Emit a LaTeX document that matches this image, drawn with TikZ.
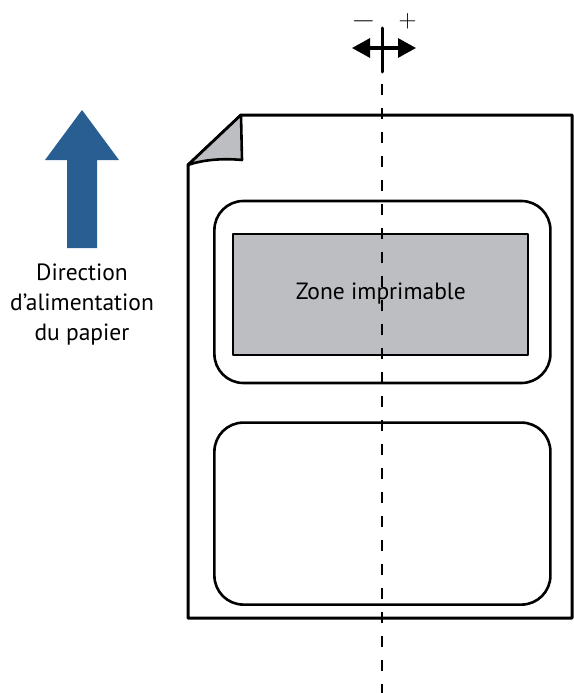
\documentclass[tikz,border=0pt]{standalone}
\usepackage{fontspec}
\setmainfont{PT Sans}
\usetikzlibrary{arrows.meta,positioning}
\definecolor{feedblue}{RGB}{40,94,145}
\definecolor{zonegray}{RGB}{188,190,193}
\tikzset{
 labelbox/.style={draw,line width=2.6pt,rounded corners=29pt,minimum width=336pt,minimum height=182pt,inner sep=0pt},
 zonebox/.style={draw,fill=zonegray,line width=2pt,minimum width=295pt,minimum height=121pt,inner sep=0pt,font=\fontsize{23.5}{29}\selectfont},
 signtext/.style={font=\Huge,inner sep=0pt},
}
\begin{document}
\begin{tikzpicture}[x=1pt,y=-1pt,>=Stealth,line cap=round,line join=round]
 \useasboundingbox (0,0) rectangle (573,693);
 \fill[white] (0,0) rectangle (573,693);
 \draw[line width=3pt] (188,618) -- (188,165) -- (241,115) -- (572,115) -- (572,618) -- cycle;
 \draw[fill=zonegray,line width=2.6pt] (241,115) -- (242,160)
  .. controls (222,158) and (202,160) .. (188,165) -- cycle;
 \node[labelbox] (label1) at (382.4,292) {};
 \node[labelbox,below=37pt of label1] (label2) {};
 \node[zonebox] (zone) at (380.8,294) {Zone imprimable};
 \draw[dash pattern=on 11pt off 13pt,line width=1.2pt,line cap=butt] (382,84) -- (382,693);
 \coordinate (shiftL) at (352,48);
 \coordinate (shiftR) at (416,48);
 \draw[line width=3pt] (382,28) -- (382,72);
 \draw[{Triangle[length=18pt,width=19pt]}-{Triangle[length=18pt,width=19pt]},line width=3.2pt,line cap=butt]
  (shiftL) -- (shiftR);
 \node[signtext] (minus) at (363.5,21) {\scalebox{1.25}[1]{$-$}};
 \node[signtext] (plus) at (407.5,21) {$+$};
 \fill[feedblue] (67,248) -- (67,160) -- (45,160) -- (82,110) -- (119,160) -- (97,160) -- (97,248) -- cycle;
 \coordinate (feedbase) at (82,248);
 \node[align=center,font=\fontsize{23.5}{30}\selectfont,below=12pt of feedbase] (feedtext)
  {Direction\\d’alimentation\\du papier};
\end{tikzpicture}
\end{document}
